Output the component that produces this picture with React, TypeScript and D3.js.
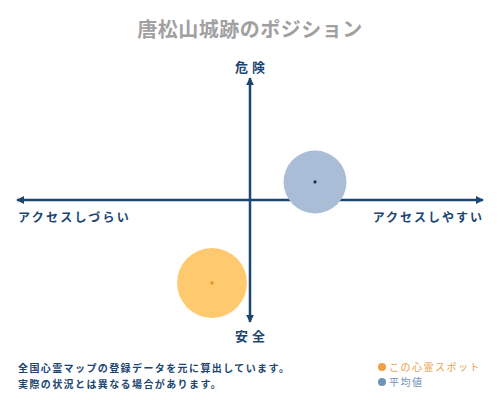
import * as React from 'react';
import * as d3 from 'd3';

const chartTitle = '唐松山城跡のポジション';
const axisLabels = ['危険', '安全', 'アクセスしづらい', 'アクセスしやすい'];
const seriesNames = ['この心霊スポット', '平均値'];
const seriesX = [-0.163, 0.279];
const seriesY = [-0.68, 0.148];
const seriesR = [0.15, 0.135];
const notes = ['全国心霊マップの登録データを元に算出しています。', '実際の状況とは異なる場合があります。'];

const width = 500;
const height = 400;
const navy = '#1c4672';
const font = '"Noto Sans CJK JP", "Noto Sans", sans-serif';

const fills = ['#fec96f', '#a9bdd6'];
const dots = ['#e8901a', '#1c2f48'];
const legendDots = ['#f0a040', '#6f93b8'];
const legendText = ['#e8a04a', '#6f93b8'];

export default function App() {
    const xScale = d3.scaleLinear().domain([-1, 1]).range([17, 483]);
    const yScale = d3.scaleLinear().domain([-1, 1]).range([322, 78]);
    const rScale = d3.scaleLinear().domain([0, 1]).range([0, 233]);

    const x0 = xScale(0);
    const y0 = yScale(0);

    return (
        <svg width={width} height={height}
            style={{ position: 'absolute', left: 0, top: 0, fontFamily: font }}>
            <defs>
                <marker id="arr" viewBox="0 0 10 10" refX="9" refY="5"
                    markerWidth="3.2" markerHeight="3.2" orient="auto-start-reverse">
                    <path d="M0,0 L10,5 L0,10 z" fill={navy} />
                </marker>
            </defs>

            <text x={width / 2} y={37} textAnchor="middle" fontSize={20}
                fontWeight="bold" fill="#a0a0a0" letterSpacing={0.5}>{chartTitle}</text>

            <line x1={xScale(-1)} x2={xScale(1)} y1={y0} y2={y0}
                stroke={navy} strokeWidth={2.5}
                markerStart="url(#arr)" markerEnd="url(#arr)" />
            <line x1={x0} x2={x0} y1={yScale(1)} y2={yScale(-1)}
                stroke={navy} strokeWidth={2.5}
                markerStart="url(#arr)" markerEnd="url(#arr)" />

            <text x={x0 + 2} y={72} textAnchor="middle" fontSize={13}
                fontWeight="bold" fill={navy} letterSpacing={4}>{axisLabels[0]}</text>
            <text x={x0 + 2} y={341} textAnchor="middle" fontSize={13}
                fontWeight="bold" fill={navy} letterSpacing={4}>{axisLabels[1]}</text>
            <text x={18} y={222} fontSize={12} fontWeight="bold" fill={navy}
                letterSpacing={2.3}>{axisLabels[2]}</text>
            <text x={484} y={222} textAnchor="end" fontSize={12} fontWeight="bold"
                fill={navy} letterSpacing={2}>{axisLabels[3]}</text>

            {seriesX.map((v, i) => (
                <g key={i}>
                    <circle cx={xScale(v)} cy={yScale(seriesY[i])} r={rScale(seriesR[i])}
                        fill={fills[i]} />
                    <circle cx={xScale(v)} cy={yScale(seriesY[i])} r={1.6} fill={dots[i]} />
                </g>
            ))}

            {notes.map((t, i) => (
                <text key={i} x={18} y={372 + i * 16} fontSize={10} fontWeight="bold"
                    fill={navy} letterSpacing={1.4}>{t}</text>
            ))}

            {seriesNames.map((t, i) => (
                <g key={i}>
                    <circle cx={382} cy={367 + i * 15} r={4} fill={legendDots[i]} />
                    <text x={389} y={371 + i * 15} fontSize={10} fill={legendText[i]}
                        letterSpacing={1.5}>{t}</text>
                </g>
            ))}
        </svg>
    );
}
